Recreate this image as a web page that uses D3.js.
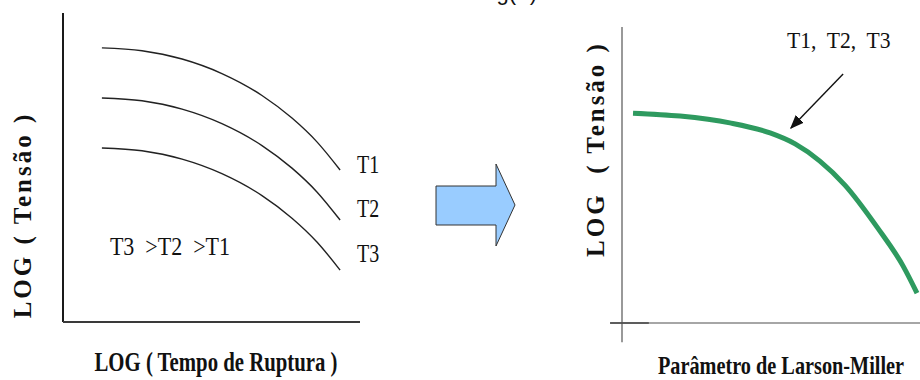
<!DOCTYPE html>
<html>
<head>
<meta charset="utf-8">
<script src="https://cdn.jsdelivr.net/npm/d3@7"></script>
</head>
<body style="margin:0">
<svg id="chart" width="920" height="380"></svg>
<script>
// Creep curves: log(stress) against log(rupture time) at three temperatures
const tempLabels = ["T1", "T2", "T3"];
const curveTime = [13.1, 26.6, 40.1, 53.5, 67.0, 77.1, 85.5, 93.3];
const stressT1 = [88.7, 87.8, 85.1, 80.4, 73.3, 66.0, 58.3, 49.2];
const stressT2 = [72.5, 71.6, 68.9, 64.2, 57.1, 49.8, 42.1, 33.0];
const stressT3 = [56.3, 55.4, 52.7, 48.0, 40.9, 33.6, 25.9, 16.8];

// Master curve: log(stress) against the Larson-Miller parameter
const lmParam = [3.7, 19.5, 36.2, 49.7, 58.1, 66.4, 74.8, 85.6, 94.3, 99.0];
const lmStress = [70.9, 69.9, 67.6, 64.2, 60.5, 54.7, 46.6, 32.4, 19.3, 10.1];

// Pointer from the "T1, T2, T3" note down to the master curve
const pointerParam = [74.2, 56.7];
const pointerStress = [84.1, 65.9];

const NBSP = "\u00A0";
const svg = d3.select("#chart");

function serifText(size, bold) {
  const t = svg.append("text")
    .attr("font-family", "'Liberation Serif'")
    .attr("font-size", size)
    .attr("fill", "#111");
  if (bold) t.attr("font-weight", "bold");
  return t;
}

// Cropped caption above the figure
svg.append("text")
  .attr("x", 537).attr("y", 0)
  .attr("text-anchor", "end")
  .attr("font-family", "'Liberation Sans'")
  .attr("font-size", 22)
  .attr("fill", "#111")
  .text("Log(σ)");

// ---------- left panel ----------
const xL = d3.scaleLinear().domain([0, 100]).range([63, 360]);
const yL = d3.scaleLinear().domain([0, 100]).range([322, 13]);

svg.append("line")
  .attr("x1", xL(0)).attr("x2", xL(0)).attr("y1", yL(100)).attr("y2", yL(0))
  .attr("stroke", "#1a1a1a").attr("stroke-width", 2);
svg.append("line")
  .attr("x1", xL(0)).attr("x2", xL(100)).attr("y1", yL(0)).attr("y2", yL(0))
  .attr("stroke", "#3a3a3a").attr("stroke-width", 2);

const lineL = d3.line().curve(d3.curveMonotoneX)
  .x(d => xL(d[0])).y(d => yL(d[1]));

// labels sit a little above the lower curve ends
const labelShift = [3, -3, -8];
const leftSeries = [stressT1, stressT2, stressT3];
leftSeries.forEach((vals, i) => {
  const pts = curveTime.map((t, j) => [t, vals[j]]);
  svg.append("path")
    .attr("d", lineL(pts))
    .attr("fill", "none")
    .attr("stroke", "#222")
    .attr("stroke-width", 1.4);
  const last = pts[pts.length - 1];
  serifText(25, false)
    .attr("transform", `translate(${xL(last[0]) + 17},${yL(last[1]) + labelShift[i]}) scale(0.8,1)`)
    .text(tempLabels[i]);
});

serifText(25, false)
  .attr("transform", `translate(${xL(15.8)},255) scale(0.88,1)`)
  .text(`T3${NBSP} >T2${NBSP} >T1`);

serifText(25, true)
  .attr("transform", `translate(22,215) rotate(-90)`)
  .attr("text-anchor", "middle")
  .attr("dy", "0.35em")
  .attr("letter-spacing", 3)
  .text("LOG ( Tensão )");

serifText(27, true)
  .attr("transform", `translate(216,371) scale(0.77,1)`)
  .attr("text-anchor", "middle")
  .text("LOG ( Tempo de Ruptura )");

// ---------- block arrow between panels ----------
const arrowPts = [[436, 186], [496, 186], [496, 164], [515, 205], [496, 246], [496, 225], [436, 225]];
svg.append("path")
  .attr("d", d3.line()(arrowPts) + "Z")
  .attr("fill", "#99ccff")
  .attr("stroke", "#333")
  .attr("stroke-width", 1);

// ---------- right panel ----------
const xR = d3.scaleLinear().domain([0, 100]).range([622, 920]);
const yR = d3.scaleLinear().domain([0, 100]).range([323, 27]);

svg.append("line")
  .attr("x1", xR(0)).attr("x2", xR(0)).attr("y1", yR(100)).attr("y2", yR(-6.5))
  .attr("stroke", "#555").attr("stroke-width", 1.2);
svg.append("line")
  .attr("x1", xR(-4)).attr("x2", xR(100)).attr("y1", yR(0)).attr("y2", yR(0))
  .attr("stroke", "#888").attr("stroke-width", 1.6);
svg.append("line")
  .attr("x1", xR(-4)).attr("x2", xR(9)).attr("y1", yR(0)).attr("y2", yR(0))
  .attr("stroke", "#444").attr("stroke-width", 1.6);

const lineR = d3.line().curve(d3.curveMonotoneX)
  .x(d => xR(d[0])).y(d => yR(d[1]));
svg.append("path")
  .attr("d", lineR(lmParam.map((p, i) => [p, lmStress[i]])))
  .attr("fill", "none")
  .attr("stroke", "#2e9a5f")
  .attr("stroke-width", 5)
  .attr("stroke-linecap", "butt");

svg.append("defs").append("marker")
  .attr("id", "head")
  .attr("viewBox", "0 0 10 10")
  .attr("refX", 9).attr("refY", 5)
  .attr("markerWidth", 14).attr("markerHeight", 14)
  .attr("markerUnits", "userSpaceOnUse")
  .attr("orient", "auto")
  .append("path").attr("d", "M0,1 L10,5 L0,9 Z").attr("fill", "#111");

svg.append("line")
  .attr("x1", xR(pointerParam[0])).attr("y1", yR(pointerStress[0]))
  .attr("x2", xR(pointerParam[1])).attr("y2", yR(pointerStress[1]))
  .attr("stroke", "#111").attr("stroke-width", 1.4)
  .attr("marker-end", "url(#head)");

serifText(24, false)
  .attr("transform", `translate(787,48) scale(0.9,1)`)
  .text(`T1,${NBSP} T2,${NBSP} T3`);

serifText(25, true)
  .attr("transform", `translate(595,149) rotate(-90)`)
  .attr("text-anchor", "middle")
  .attr("dy", "0.35em")
  .attr("letter-spacing", 3)
  .text(`LOG${NBSP} ( Tensão )`);

serifText(26, true)
  .attr("transform", `translate(781,374) scale(0.78,1)`)
  .attr("text-anchor", "middle")
  .text("Parâmetro de Larson-Miller");
</script>
</body>
</html>
